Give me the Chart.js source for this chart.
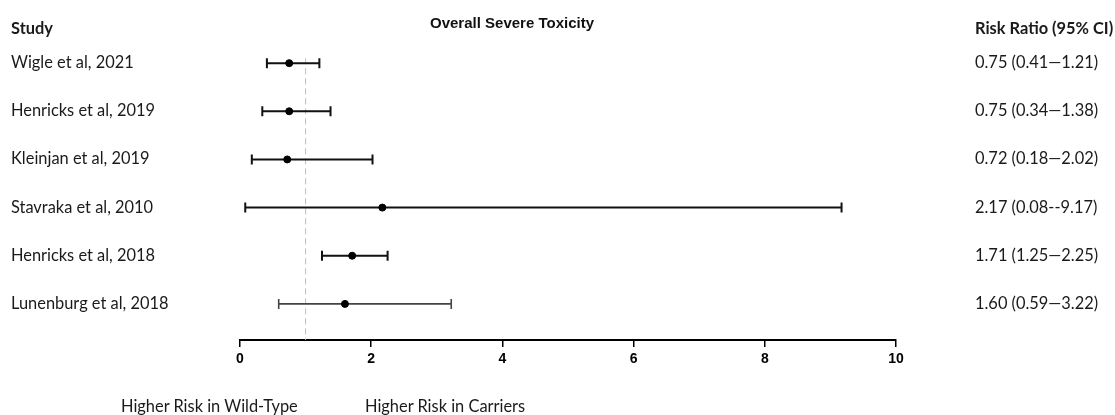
<!DOCTYPE html>
<html>
<head>
<meta charset="utf-8">
<script src="https://cdn.jsdelivr.net/npm/chart.js@4/dist/chart.umd.min.js"></script>
<style>
  html, body { margin: 0; padding: 0; background: #fff; }
  #wrap { position: relative; width: 1115px; height: 415px; overflow: hidden; }
  #forest { position: absolute; left: 0; top: 0; }
  .txt { position: absolute; white-space: nowrap; color: #1a1a1a; font-family: Lato, "Open Sans", sans-serif; font-size: 16.4px; line-height: 19px; transform: translateY(-50%); }
  .bold { font-weight: bold; }
  #title { font-family: "Liberation Sans", Arial, sans-serif; font-size: 15px; font-weight: bold; color: #111; transform: translate(-50%, -50%); }
</style>
</head>
<body>
<div id="wrap">
  <canvas id="forest" width="1115" height="415"></canvas>
</div>
<script>
// study rows, top to bottom
const studies = ['Wigle et al, 2021', 'Henricks et al, 2019', 'Kleinjan et al, 2019',
                 'Stavraka et al, 2010', 'Henricks et al, 2018', 'Lunenburg et al, 2018'];
const riskRatio = [0.75, 0.75, 0.72, 2.17, 1.71, 1.60];
const ciLower   = [0.41, 0.34, 0.18, 0.08, 1.25, 0.59];
const ciUpper   = [1.21, 1.38, 2.02, 9.17, 2.25, 3.22];
const ciText    = ['0.75 (0.41\u20141.21)', '0.75 (0.34\u20141.38)', '0.72 (0.18\u20142.02)',
                   '2.17 (0.08--9.17)', '1.71 (1.25\u20142.25)', '1.60 (0.59\u20143.22)'];
const xTicks = [0, 2, 4, 6, 8, 10];
const refValue = 1;

const chartTitle = 'Overall Severe Toxicity';
const leftHeader = 'Study';
const rightHeader = 'Risk Ratio (95% CI)';
const bottomLabels = ['Higher Risk in Wild-Type', 'Higher Risk in Carriers'];

const barColors = ['#111', '#111', '#111', '#111', '#111', '#444'];

// error bars + dashed null line
const forestPlugin = {
  id: 'forest',
  beforeDatasetsDraw(chart) {
    const { ctx, scales: { x, y }, chartArea } = chart;
    const px = x.getPixelForValue(refValue);
    ctx.save();
    ctx.strokeStyle = '#bdbdbd';
    ctx.lineWidth = 1;
    ctx.setLineDash([6, 4]);
    ctx.beginPath();
    ctx.moveTo(px, y.getPixelForValue(0.9));
    ctx.lineTo(px, chartArea.bottom);
    ctx.stroke();
    ctx.setLineDash([]);
    ciLower.forEach((lo, i) => {
      const py = y.getPixelForValue(i + 1);
      const x1 = x.getPixelForValue(lo);
      const x2 = x.getPixelForValue(ciUpper[i]);
      ctx.strokeStyle = barColors[i];
      ctx.lineWidth = i === 5 ? 1.6 : 2;
      ctx.beginPath();
      ctx.moveTo(x1, py); ctx.lineTo(x2, py);
      ctx.moveTo(x1, py - 5); ctx.lineTo(x1, py + 5);
      ctx.moveTo(x2, py - 5); ctx.lineTo(x2, py + 5);
      ctx.stroke();
    });
    ctx.restore();
  }
};

const chart = new Chart(document.getElementById('forest').getContext('2d'), {
  type: 'scatter',
  data: {
    datasets: [{
      data: riskRatio.map((v, i) => ({ x: v, y: i + 1 })),
      backgroundColor: '#000',
      borderColor: '#000',
      pointRadius: 3.5,
      pointHoverRadius: 3.5
    }]
  },
  options: {
    responsive: false,
    animation: false,
    events: [],
    layout: { padding: { left: 240, right: 219, top: 15, bottom: 45 } },
    plugins: { legend: { display: false }, tooltip: { enabled: false } },
    scales: {
      x: {
        type: 'linear', min: 0, max: 10,
        afterBuildTicks: (s) => { s.ticks = xTicks.map(v => ({ value: v })); },
        afterFit: (s) => { s.height = 30; },
        border: { display: true, color: '#000', width: 2 },
        grid: { drawOnChartArea: false, drawTicks: true, tickLength: 7, color: '#000', lineWidth: 1.5 },
        ticks: {
          padding: 4, color: '#000',
          font: { family: '"Liberation Sans Narrow", "Liberation Sans", Arial, sans-serif', size: 14, weight: 'bold' }
        }
      },
      y: { type: 'linear', min: 0, max: 6.75, reverse: true, display: false }
    }
  },
  plugins: [forestPlugin]
});

// text columns, lined up with the y scale
const wrap = document.getElementById('wrap');
function addText(str, left, top, cls, id) {
  const d = document.createElement('div');
  d.className = 'txt' + (cls ? ' ' + cls : '');
  if (id) d.id = id;
  d.textContent = str;
  d.style.left = left + 'px';
  d.style.top = top + 'px';
  wrap.appendChild(d);
}
const ys = chart.scales.y;
studies.forEach((s, i) => addText(s, 11, ys.getPixelForValue(i + 1) - 2));
ciText.forEach((s, i) => addText(s, 975, ys.getPixelForValue(i + 1) - 2));
addText(leftHeader, 11, 27, 'bold');
addText(rightHeader, 975, 27, 'bold');
addText(chartTitle, 512, 22, 'bold', 'title');
addText(bottomLabels[0], 121, 405);
addText(bottomLabels[1], 365, 405);
</script>
</body>
</html>
